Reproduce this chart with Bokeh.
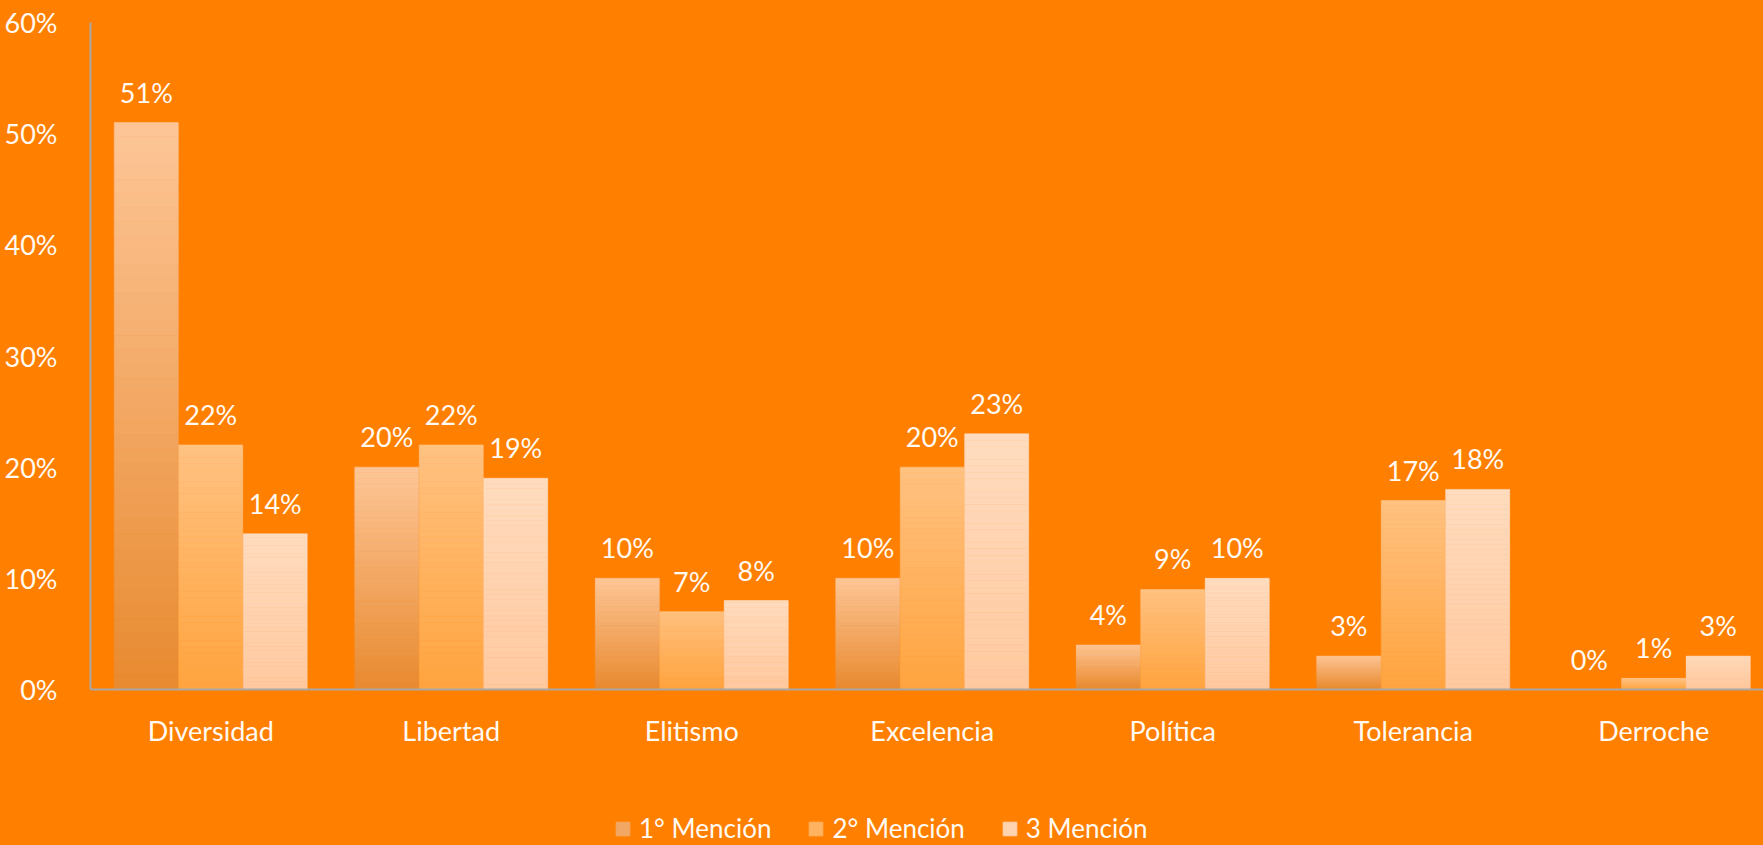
import numpy as np
from bokeh.plotting import figure
from bokeh.layouts import column
from bokeh.models import ColumnDataSource, Range1d, FixedTicker, Legend, LegendItem
from bokeh.core.properties import value
from bokeh.embed import file_html
from bokeh.resources import INLINE

categories = ["Diversidad", "Libertad", "Elitismo", "Excelencia", "Política", "Tolerancia", "Derroche"]
series_names = ["1° Mención", "2° Mención", "3 Mención"]
mencion1 = [51, 20, 10, 10, 4, 3, 0]
mencion2 = [22, 22, 7, 20, 9, 17, 1]
mencion3 = [14, 19, 8, 23, 10, 18, 3]
y_ticks = [0, 10, 20, 30, 40, 50, 60]
y_tick_labels = ["0%", "10%", "20%", "30%", "40%", "50%", "60%"]

# gradient colours per series (top, bottom)
grad = [("#fdc697", "#e88a30"), ("#ffc282", "#ffa43f"), ("#ffdcbf", "#ffc9a0")]
offsets = [-0.268, 0.0, 0.268]
bar_w = 0.266
FONT = "Lato"
FS = "27px"
TXT = "#fffaf3"
BG = "#ff7f00"

def hex2rgb(h):
    h = h.lstrip("#")
    return np.array([int(h[i:i + 2], 16) for i in (0, 2, 4)], dtype=float)

def rgb2hex(c):
    return "#%02x%02x%02x" % tuple(int(round(v)) for v in c)

p = figure(width=1763, height=805, output_backend="svg", toolbar_location=None,
           x_range=Range1d(0, 1673 / 240.5), y_range=Range1d(0, 60),
           min_border_left=90, min_border_right=0, min_border_top=22, min_border_bottom=116,
           background_fill_color=BG, border_fill_color=BG, outline_line_color=None,
           styles={"background-color": BG})
p.grid.visible = False

N = 40
all_series = [mencion1, mencion2, mencion3]
xs_center = np.arange(len(categories)) + 0.5
for s, vals in enumerate(all_series):
    top_c, bot_c = hex2rgb(grad[s][0]), hex2rgb(grad[s][1])
    xs, bots, tops, cols = [], [], [], []
    for i, v in enumerate(vals):
        for k in range(N):
            f0, f1 = k / N, (k + 1) / N
            t = (f0 + f1) / 2
            xs.append(xs_center[i] + offsets[s])
            bots.append(v * f0)
            tops.append(v * f1)
            cols.append(rgb2hex(bot_c + (top_c - bot_c) * t))
    src = ColumnDataSource(dict(x=xs, bottom=bots, top=tops, color=cols))
    p.vbar(x="x", width=bar_w, bottom="bottom", top="top", source=src,
           fill_color="color", line_color="color", line_width=0.6)

    lab = ColumnDataSource(dict(x=xs_center + offsets[s], y=vals, t=["%d%%" % v for v in vals]))
    p.text(x="x", y="y", text="t", source=lab, text_align="center", text_baseline="bottom",
           y_offset=-14, text_font=value(FONT), text_font_size=FS, text_color=TXT)

# axes
p.yaxis.ticker = FixedTicker(ticks=y_ticks)
p.yaxis.major_label_overrides = {t: l for t, l in zip(y_ticks, y_tick_labels)}
p.xaxis.ticker = FixedTicker(ticks=list(xs_center))
p.xaxis.major_label_overrides = {float(x): c for x, c in zip(xs_center, categories)}
for ax in (p.xaxis, p.yaxis):
    ax.axis_line_color = "#a8a8a8"
    ax.axis_line_width = 2
    ax.major_tick_line_color = None
    ax.minor_tick_line_color = None
    ax.major_label_text_font = FONT
    ax.major_label_text_font_size = FS
    ax.major_label_text_color = TXT
p.yaxis.major_label_standoff = 27
p.xaxis.major_label_standoff = 18

# legend strip below the chart (swatch renderers carry no visible data)
lf = figure(width=1763, height=40, output_backend="svg", toolbar_location=None,
            x_range=Range1d(0, 1), y_range=Range1d(0, 1), x_axis_type=None, y_axis_type=None,
            min_border=0, background_fill_color=BG, border_fill_color=BG, outline_line_color=None,
            styles={"background-color": BG})
lf.grid.visible = False
items = []
for s in range(3):
    mid = rgb2hex((hex2rgb(grad[s][0]) + hex2rgb(grad[s][1])) / 2)
    r = lf.vbar(x=[np.nan], top=[np.nan], width=0.1, fill_color=mid, line_color=mid)
    items.append(LegendItem(label=series_names[s], renderers=[r]))
legend = Legend(items=items, orientation="horizontal", location=(524, 1),
                label_text_font=FONT, label_text_font_size="26px", label_text_color=TXT,
                glyph_width=17, glyph_height=17, label_standoff=8, spacing=36, padding=0,
                margin=0, border_line_color=None, background_fill_alpha=0)
lf.add_layout(legend, "center")

layout = column(p, lf, spacing=0, styles={"background-color": BG})
open("out.html", "w").write(file_html(layout, INLINE))
